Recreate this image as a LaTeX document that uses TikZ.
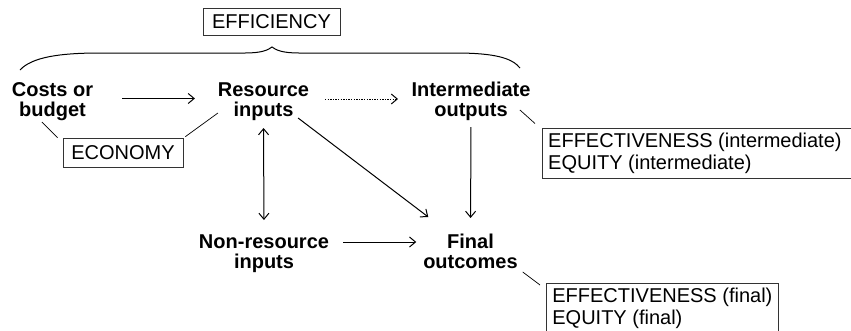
\documentclass[tikz,border=0pt]{standalone}
\usepackage{fontspec}
\setmainfont{Liberation Sans}
\usetikzlibrary{arrows.meta,calc}
\newcommand\mytop{\rule{0pt}{15pt}}
\newcommand\mybot{\rule[-5pt]{0pt}{5pt}}
\begin{document}
\begin{tikzpicture}[x=1pt,y=-1pt,
  lbl/.style={font=\fontsize{20}{20}\selectfont\bfseries, align=center, inner sep=0pt, outer sep=0pt, anchor=north},
  tag/.style={draw=black!80, line width=0.7pt, font=\fontsize{20}{22}\selectfont, inner sep=0pt, text height=14.3pt, text depth=0pt},
  note/.style={font=\fontsize{20}{22}\selectfont, align=left, inner xsep=6pt, inner ysep=4.5pt, anchor=north west},
  boxline/.style={draw=black!80, line width=0.7pt},
  arr/.style={line width=1pt, -{Straight Barb[length=6pt,width=10pt]}},
  darr/.style={line width=1pt, {Straight Barb[length=6pt,width=10pt]}-{Straight Barb[length=6pt,width=10pt]}},
  lead/.style={line width=0.7pt},
]
\useasboundingbox (0,0) rectangle (851,330);

% main labels
\node[lbl] (costs)  at (52.5,81)    {\mytop Costs or\\budget\mybot};
\node[lbl] (res)    at (263.5,81)   {\mytop Resource\\inputs\mybot};
\node[lbl] (inter)  at (471,81)     {\mytop Intermediate\\outputs\mybot};
\node[lbl] (nonres) at (264,233.5)  {\mytop Non-resource\\inputs\mybot};
\node[lbl] (final)  at (470.5,233.5){\mytop Final\\outcomes\mybot};

% tag boxes
\node[tag, minimum width=137pt, minimum height=27pt] (eff)  at (271.5,21.5) {EFFICIENCY};
\node[tag, minimum width=120pt, minimum height=29pt] (econ) at (123,152.5)  {ECONOMY};
\node[note] (ebox1) at (542,128.5) {EFFECTIVENESS (intermediate)\\EQUITY (intermediate)};
\draw[boxline] ($(ebox1.north east)+(8,0)$) -- (ebox1.north west) -- (ebox1.south west) -- ($(ebox1.south east)+(8,0)$);
\node[note, boxline] (ebox2) at (546,283) {EFFECTIVENESS (final)\\EQUITY (final)};

% brace
\draw[line width=1pt] (20,70) .. controls (32,57) and (60,53) .. (100,53) -- (245,53)
  .. controls (262,53) and (268,50) .. (272,47)
  .. controls (276,50) and (282,53) .. (299,53) -- (455,53)
  .. controls (495,53) and (512,58) .. (520,68);

% connectors
\draw[arr, shorten <=29pt, shorten >=23pt] ([yshift=2.5pt]costs.east) -- ([yshift=2.5pt]res.west);
\draw[arr, dash pattern=on 1.3pt off 1.3pt, shorten <=16pt, shorten >=13.5pt] ([yshift=2pt]res.east) -- ([yshift=2pt]inter.west);
\draw[arr, shorten <=6pt, shorten >=15.5pt] (inter.south) -- (final.north);
\draw[darr, shorten <=7pt, shorten >=13.5pt] (res.south) -- (nonres.north);
\draw[arr] ($(res.south east)+(-11,-3)$) -- ($(final.north west)+(5,-16.5)$);
\draw[arr, shorten <=14pt, shorten >=7pt] ([yshift=11.5pt]nonres.east) -- ([yshift=11.5pt]final.west);

% leader lines
\draw[lead] ($(costs.south west)+(30,1)$) -- ($(econ.north west)+(-5,0)$);
\draw[lead] ($(res.west)+(0,12)$) -- ($(econ.north east)+(2,-1)$);
\draw[lead] ($(inter.south east)+(-10.5,-11)$) -- ($(ebox1.north west)+(-7,-5)$);
\draw[lead] ($(final.south east)+(5,-1.5)$) -- ($(ebox2.north west)+(-6,2)$);
\end{tikzpicture}
\end{document}
